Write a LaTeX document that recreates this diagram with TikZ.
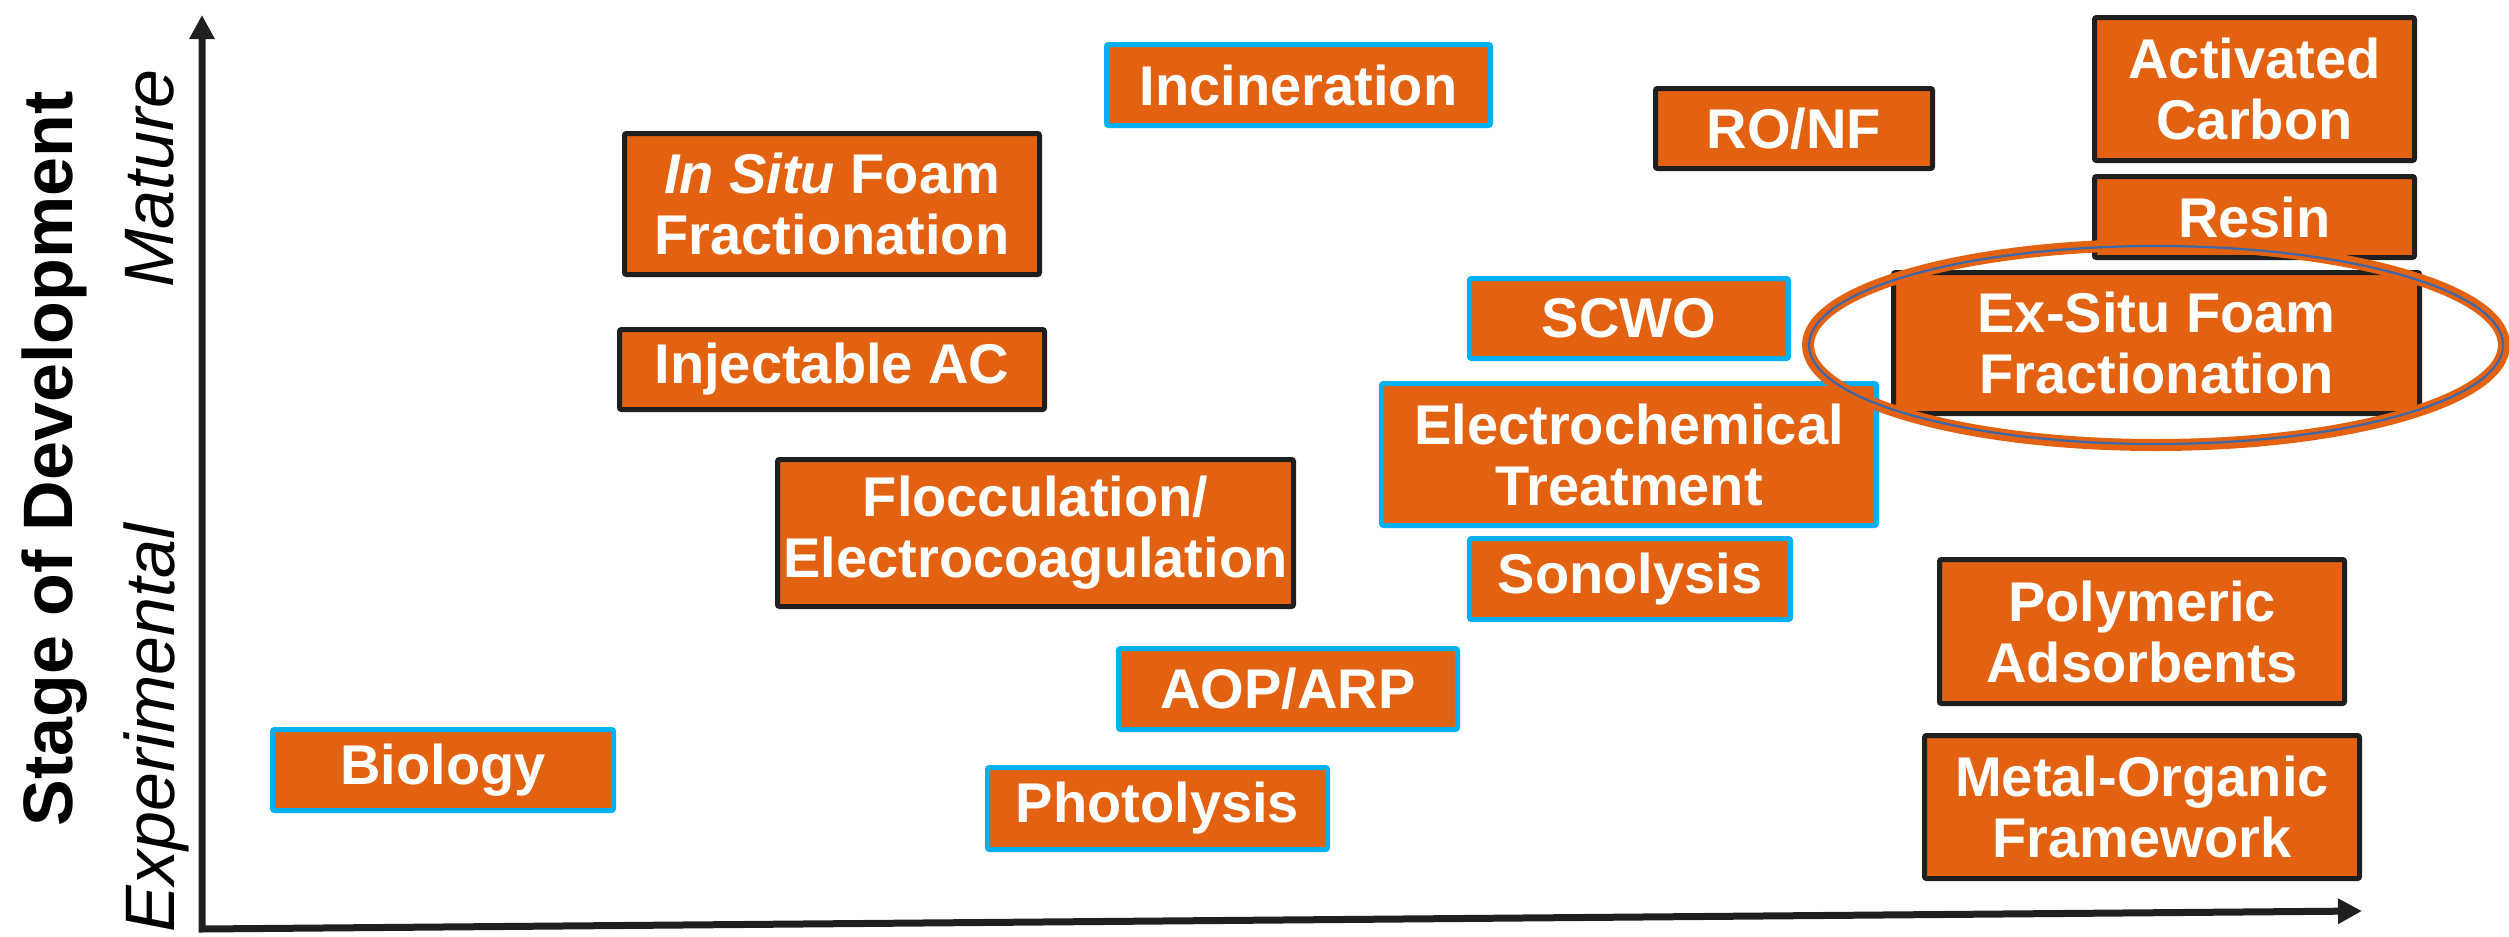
\documentclass[tikz,border=0pt]{standalone}
\usepackage{fontspec}
\setmainfont{Liberation Sans}
\usetikzlibrary{arrows.meta}
\definecolor{boxorange}{RGB}{226,98,17}
\definecolor{edgeblue}{RGB}{0,176,240}
\definecolor{edgeblack}{RGB}{31,31,31}
\definecolor{ringblue}{RGB}{58,104,170}
\begin{document}
\begin{tikzpicture}[x=1pt,y=-1pt,
  tbox/.style={rectangle, fill=boxorange, line width=5pt, rounded corners=2pt,
    inner sep=0pt, text=white, align=center,
    font=\fontsize{56}{61}\selectfont\bfseries},
  bbox/.style={tbox, draw=edgeblack},
  cbox/.style={tbox, draw=edgeblue},
  axis/.style={line width=7pt, draw=edgeblack,
    {Triangle[length=24pt,width=24pt]}-{Triangle[length=24pt,width=24pt]}},
  sidelabel/.style={rotate=90, anchor=base, inner sep=0pt, text=black}
  ]
\useasboundingbox (0,0) rectangle (2509,937);

% axes
\coordinate (ytip) at (202,15);
\coordinate (origin) at (202,929);
\coordinate (xtip) at (2362,911);
\draw[axis] (ytip) -- (origin) -- (xtip);

% axis labels
\node[sidelabel, font=\fontsize{70}{84}\selectfont\bfseries] (stage) at (72,459) {Stage of Development};
\node[sidelabel, font=\fontsize{70}{84}\selectfont\itshape] (mature) at (173,178.5) {Mature};
\node[sidelabel, font=\fontsize{70}{84}\selectfont\itshape] (experimental) at (174,728) {Experimental};

% boxes
\node[cbox, minimum width=384pt, minimum height=81pt] (incin) at (1298.5,85) {Incineration};
\node[bbox, minimum width=277pt, minimum height=80pt] (ronf) at (1794,128.5) {RO/NF};
\node[bbox, minimum width=320pt, minimum height=143pt] (gac) at (2254.5,89) {Activated\\Carbon};
\node[bbox, minimum width=320pt, minimum height=81pt] (resin) at (2254.5,217) {Resin};
\node[bbox, minimum width=415pt, minimum height=141pt] (insitu) at (832,204) {\textit{In Situ} Foam\\Fractionation};
\node[bbox, minimum width=425pt, minimum height=80pt] (inject) at (832,369.5) {Injectable AC};
\node[cbox, minimum width=319pt, minimum height=80pt] (scwo) at (1629,318.5) {SCWO};
\node[bbox, minimum width=526pt, minimum height=141pt] (exsitu) at (2156.5,343) {Ex-Situ Foam\\Fractionation};
\node[cbox, minimum width=495pt, minimum height=142pt] (echem) at (1629,454.5) {Electrochemical\\Treatment};
\node[bbox, minimum width=516pt, minimum height=147pt] (floc) at (1035.5,533) {Flocculation/\\Electrocoagulation};
\node[cbox, minimum width=321pt, minimum height=81pt] (sono) at (1630,579) {Sonolysis};
\node[bbox, minimum width=405pt, minimum height=144pt] (poly) at (2142,631.5) {Polymeric\\Adsorbents};
\node[cbox, minimum width=339pt, minimum height=81pt] (aop) at (1288,689) {AOP/ARP};
\node[cbox, minimum width=341pt, minimum height=81pt] (bio) at (443,770) {Biology};
\node[cbox, minimum width=340pt, minimum height=82pt] (photo) at (1157.5,808.5) {Photolysis};
\node[bbox, minimum width=435pt, minimum height=143pt] (mof) at (2142,807) {Metal-Organic\\Framework};

% highlight ring
\coordinate (ringc) at (2156,345);
\draw[boxorange, line width=12pt] (ringc) ellipse [x radius=348pt, y radius=100pt];
\draw[ringblue, line width=2.2pt] (ringc) ellipse [x radius=347pt, y radius=99pt];
\end{tikzpicture}
\end{document}
